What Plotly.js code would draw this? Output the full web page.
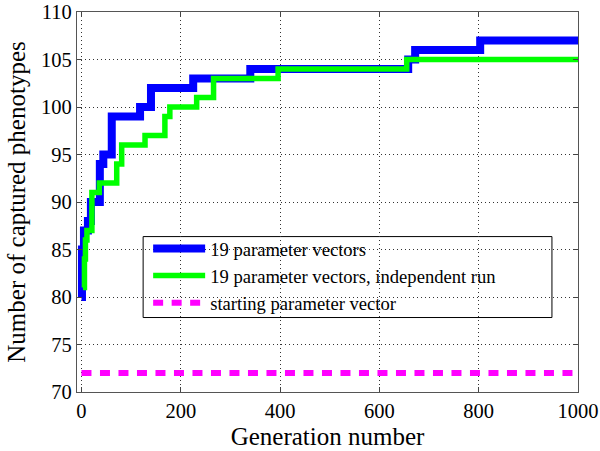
<!DOCTYPE html>
<html>
<head>
<meta charset="utf-8">
<script src="https://cdn.plot.ly/plotly-3.0.1.min.js"></script>
<style>html,body{margin:0;padding:0;background:#fff}#chart{width:600px;height:451px}</style>
</head>
<body>
<div id="chart"></div>
<script>
// Run 1: 19 parameter vectors (step changes: generation, captured phenotypes)
const blueGen = [0, 1, 5, 13, 19, 37, 44, 61, 118, 140, 225, 340, 658, 672, 803, 1000];
const blueVal = [80, 85, 87, 88, 90, 94, 95, 99, 100, 102, 103, 104, 105, 106, 107, 107];
// Run 2: independent run
const greenGen = [3, 6, 8, 11, 21, 36, 71, 81, 128, 168, 178, 232, 266, 396, 655, 1000];
const greenVal = [81, 84, 86, 87, 91, 92, 94, 96, 97, 99, 100, 101, 103, 104, 105, 105];
// Starting parameter vector baseline
const startGen = [0, 1000];
const startVal = [72, 72];

const names = ["19 parameter vectors", "19 parameter vectors, independent run", "starting parameter vector"];
const xTicks = [0, 200, 400, 600, 800, 1000];
const yTicks = [70, 75, 80, 85, 90, 95, 100, 105, 110];

const serif = "'Liberation Serif', 'Times New Roman', serif";

const traces = [
  {x: blueGen, y: blueVal, name: names[0], mode: "lines", line: {shape: "hv", color: "#0000ff", width: 8}},
  {x: greenGen, y: greenVal, name: names[1], mode: "lines", line: {shape: "hv", color: "#00ff00", width: 5.5}},
  {x: startGen, y: startVal, name: names[2], mode: "lines", line: {color: "#ff00ff", width: 6, dash: "10px,8.5px"}}
];

function axisCommon() {
  return {
    showline: true, mirror: "ticks", linecolor: "#555", linewidth: 1.2,
    ticks: "inside", ticklen: 5, tickcolor: "#444",
    showgrid: true, gridcolor: "#333", gridwidth: 1, griddash: "1px,3px",
    zeroline: false, ticklabeloverflow: "allow",
    tickfont: {family: serif, size: 20.5, color: "#000"}
  };
}

const layout = {
  width: 600, height: 451,
  margin: {l: 77, r: 22, t: 12, b: 59},
  paper_bgcolor: "#fff", plot_bgcolor: "#fff",
  font: {family: serif, color: "#000"},
  showlegend: true,
  xaxis: Object.assign(axisCommon(), {
    range: [-9, 1000], tickvals: xTicks, ticktext: xTicks.map(String),
    title: {text: "Generation number", font: {family: serif, size: 25, color: "#000"}, standoff: 6}
  }),
  yaxis: Object.assign(axisCommon(), {
    range: [70, 110], tickvals: yTicks, ticktext: yTicks.map(String),
    title: {text: "Number of captured phenotypes", font: {family: serif, size: 25, color: "#000"}, standoff: 8}
  }),
  legend: {
    x: 0.142, y: 0.4267, xanchor: "left", yanchor: "top",
    bgcolor: "rgba(0,0,0,0)", borderwidth: 0,
    itemwidth: 52,
    font: {family: serif, size: 18.6, color: "#000"}
  },
  // legend frame (MATLAB-style box, wider than the entries)
  shapes: [{
    type: "rect", xref: "paper", yref: "paper",
    x0: 0.132, x1: 0.948, y0: 0.196, y1: 0.409,
    line: {color: "#000", width: 1}, fillcolor: "#fff", layer: "between"
  }]
};

Plotly.newPlot("chart", traces, layout, {displayModeBar: false, staticPlot: true});
</script>
</body>
</html>
